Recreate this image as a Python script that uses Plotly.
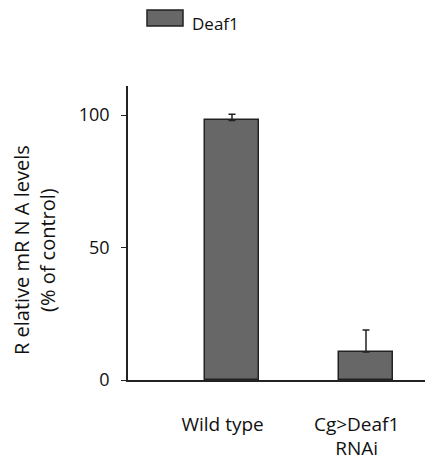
import plotly.graph_objects as go

categories = ["Wild type", "Cg>Deaf1<br>RNAi"]
series_name = "Deaf1"
values = [98.0, 10.6]
errors_up = [2.3, 8.3]
y_ticks = [0, 50, 100]
y_title = "R elative mR N A levels<br>(% of control)"

FONT = "Open Sans"
x_pos = list(range(len(categories)))
label_pos = [x - 0.07 for x in x_pos]

# page body has an 8px margin, so the figure is 425x455 inside a 433x463 window
W, H = 425, 455
L, R, T, B = 120, 0, 78, 83
pw, ph = W - L - R, H - T - B

def px(x):
    return (x - 8 - L) / pw

def py(y):
    return (H - B - (y - 8)) / ph

fig = go.Figure()
fig.add_trace(go.Bar(
    x=x_pos, y=values, name=series_name, width=0.40,
    marker=dict(color="#676767", line=dict(color="#222222", width=1.5)),
    error_y=dict(type="data", array=errors_up, arrayminus=[0] * len(values), symmetric=False,
                 color="#222222", thickness=1.5, width=3.5),
    showlegend=False,
))

# legend swatch + label
fig.add_shape(type="rect", xref="paper", yref="paper",
              x0=px(147), x1=px(183), y0=py(26), y1=py(10),
              fillcolor="#676767", line=dict(color="#222222", width=1.5))
fig.add_annotation(xref="paper", yref="paper", x=px(191), y=py(23),
                   text=series_name, showarrow=False, xanchor="left", yanchor="middle",
                   borderpad=0, font=dict(family=FONT, size=17, color="#111111"))

# y-axis title
fig.add_annotation(xref="paper", yref="paper", x=px(34), y=py(250),
                   text=y_title, showarrow=False, textangle=-90,
                   xanchor="center", yanchor="middle", borderpad=0,
                   font=dict(family=FONT, size=20, color="#111111"))

fig.update_layout(
    width=W, height=H,
    margin=dict(l=L, r=R, t=T, b=B, autoexpand=False),
    paper_bgcolor="white", plot_bgcolor="white",
    font=dict(family=FONT, size=17, color="#111111"),
    bargap=0,
)
fig.update_xaxes(
    range=[-0.776, 1.5], tickvals=label_pos, ticktext=categories, automargin=False,
    showline=True, linecolor="#222222", linewidth=1.5,
    ticks="", showgrid=False, zeroline=False, ticklabelstandoff=26,
    tickfont=dict(family=FONT, size=19),
)
fig.update_yaxes(
    range=[0, 111], tickvals=y_ticks, showline=True, linecolor="#222222", linewidth=1.5,
    automargin=False,
    ticks="outside", ticklen=5, tickcolor="#222222", tickwidth=1.2, ticklabelstandoff=8,
    showgrid=False, zeroline=False, tickfont=dict(family=FONT, size=18),
)

fig.write_html("out.html")
